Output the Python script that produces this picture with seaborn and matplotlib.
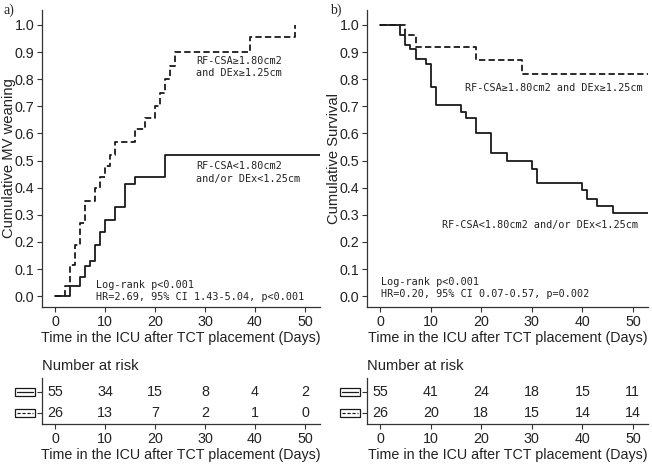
import matplotlib
matplotlib.use('Agg')
import matplotlib.pyplot as plt
import matplotlib.transforms as mtransforms
from matplotlib.patches import Rectangle
import seaborn as sns

sns.set_theme(style='ticks')
plt.rcParams['font.family'] = ['Liberation Sans', 'DejaVu Sans']

# Panel a: cumulative MV weaning (step curves)
wean_hi_t = [0, 2, 3, 4, 5, 6, 8, 9, 10, 11, 12, 16, 18, 20, 21, 22, 23, 24, 39, 48]
wean_hi_y = [0, 0.038, 0.115, 0.19, 0.27, 0.35, 0.40, 0.44, 0.48, 0.52, 0.57,
             0.615, 0.655, 0.70, 0.75, 0.80, 0.85, 0.90, 0.955, 1.0]
wean_lo_t = [0, 3, 5, 6, 7, 8, 9, 10, 12, 14, 16, 22, 53]
wean_lo_y = [0, 0.037, 0.072, 0.11, 0.13, 0.19, 0.235, 0.28, 0.33, 0.415, 0.44, 0.52, 0.52]

# Panel b: cumulative survival
surv_lo_t = [0, 4, 5, 6, 7, 9, 10, 11, 16, 17, 19, 22, 25, 30, 31, 40, 41, 43, 46, 53]
surv_lo_y = [1.0, 0.964, 0.927, 0.91, 0.873, 0.855, 0.77, 0.705, 0.68, 0.655, 0.60,
             0.527, 0.50, 0.47, 0.418, 0.39, 0.36, 0.333, 0.307, 0.307]
surv_hi_t = [0, 5, 7, 19, 28, 53]
surv_hi_y = [1.0, 0.962, 0.92, 0.87, 0.82, 0.82]

# Number at risk tables
risk_times = [0, 10, 20, 30, 40, 50]
risk_a_lo = [55, 34, 15, 8, 4, 2]
risk_a_hi = [26, 13, 7, 2, 1, 0]
risk_b_lo = [55, 41, 24, 18, 15, 11]
risk_b_hi = [26, 20, 18, 15, 14, 14]

xlabel = 'Time in the ICU after TCT placement (Days)'
lbl_hi = 'RF-CSA\u22651.80cm2 and DEx\u22651.25cm'
lbl_lo = 'RF-CSA<1.80cm2 and/or DEx<1.25cm'

FS = 10.3
MONO = dict(family='DejaVu Sans Mono', fontsize=7.3, color='#222222')
DASH = (0, (3.5, 1.8))
LC = '#1a1a1a'

fig = plt.figure(figsize=(6.52, 4.65), dpi=100)

ax_a = fig.add_axes([0.0644, 0.3398, 0.4264, 0.6387])
ax_b = fig.add_axes([0.5629, 0.3398, 0.4310, 0.6387])
rk_a = fig.add_axes([0.0644, 0.0882, 0.4264, 0.0989])
rk_b = fig.add_axes([0.5629, 0.0882, 0.4310, 0.0989])


def style_axes(ax):
    sns.despine(ax=ax)
    for s in ['left', 'bottom']:
        ax.spines[s].set_color('#333333')
        ax.spines[s].set_linewidth(0.9)
    ax.tick_params(colors='#333333', labelcolor='#222222', labelsize=FS,
                   length=3.5, width=0.8, pad=2)


def km_panel(ax, t1, y1, t2, y2, ylabel):
    sns.lineplot(x=t1, y=y1, ax=ax, drawstyle='steps-post', color=LC,
                 linewidth=1.3, estimator=None, sort=False)
    sns.lineplot(x=t2, y=y2, ax=ax, drawstyle='steps-post', color=LC,
                 linewidth=1.3, linestyle=DASH, estimator=None, sort=False)
    ax.set_xlim(-2.6, 53)
    ax.set_ylim(-0.04, 1.055)
    ax.set_xticks(risk_times)
    ax.set_yticks([i / 10 for i in range(11)])
    ax.set_yticklabels(['%.1f' % (i / 10) for i in range(11)])
    ax.set_xlabel(xlabel, fontsize=FS, color='#222222', labelpad=2)
    ax.set_ylabel(ylabel, fontsize=FS + 0.3, color='#222222')
    ax.yaxis.set_label_coords(-0.094, 0.5)
    style_axes(ax)


km_panel(ax_a, wean_lo_t, wean_lo_y, wean_hi_t, wean_hi_y, 'Cumulative MV weaning')
km_panel(ax_b, surv_lo_t, surv_lo_y, surv_hi_t, surv_hi_y, 'Cumulative Survival')

ax_a.text(28.2, 0.845, 'RF-CSA\u22651.80cm2\nand DEx\u22651.25cm', va='center', ha='left',
          linespacing=1.3, **MONO)
ax_a.text(28.2, 0.456, 'RF-CSA<1.80cm2\nand/or DEx<1.25cm', va='center', ha='left',
          linespacing=1.3, **MONO)
ax_a.text(8.2, 0.02, 'Log-rank p<0.001\nHR=2.69, 95% CI 1.43-5.04, p<0.001',
          va='center', ha='left', linespacing=1.3, **MONO)

ax_b.text(16.7, 0.768, lbl_hi, va='center', ha='left', **MONO)
ax_b.text(12.2, 0.262, lbl_lo, va='center', ha='left', **MONO)
ax_b.text(0.2, 0.031, 'Log-rank p<0.001\nHR=0.20, 95% CI 0.07-0.57, p=0.002',
          va='center', ha='left', linespacing=1.3, **MONO)

fig.text(0.006, 0.978, 'a)', family='Liberation Serif', fontsize=10, va='center')
fig.text(0.506, 0.978, 'b)', family='Liberation Serif', fontsize=10, va='center')


def risk_table(ax, lo, hi):
    for t, n in zip(risk_times, lo):
        ax.text(t, 2, str(n), ha='center', va='center', fontsize=FS, color='#222222')
    for t, n in zip(risk_times, hi):
        ax.text(t, 1, str(n), ha='center', va='center', fontsize=FS, color='#222222')
    ax.set_xlim(-2.6, 53)
    ax.set_ylim(0.476, 2.667)
    ax.set_xticks(risk_times)
    ax.set_yticks([1, 2])
    ax.set_yticklabels(['', ''])
    ax.set_xlabel(xlabel, fontsize=FS, color='#222222', labelpad=2)
    ax.set_title('Number at risk', loc='left', fontsize=FS + 0.3, color='#222222', pad=6)
    style_axes(ax)
    # legend keys in place of the y tick labels
    tr = mtransforms.blended_transform_factory(ax.transAxes, ax.transData)
    for row, ls in [(2, '-'), (1, (0, (2.5, 1.5)))]:
        ax.add_patch(Rectangle((-0.097, row - 0.17), 0.073, 0.34, transform=tr,
                               fill=False, edgecolor=LC, linewidth=0.9, clip_on=False))
        ax.plot([-0.09, -0.031], [row, row], transform=tr, color=LC,
                linewidth=0.9, linestyle=ls, clip_on=False)


risk_table(rk_a, risk_a_lo, risk_a_hi)
risk_table(rk_b, risk_b_lo, risk_b_hi)

fig.savefig('out.png', dpi=100)
